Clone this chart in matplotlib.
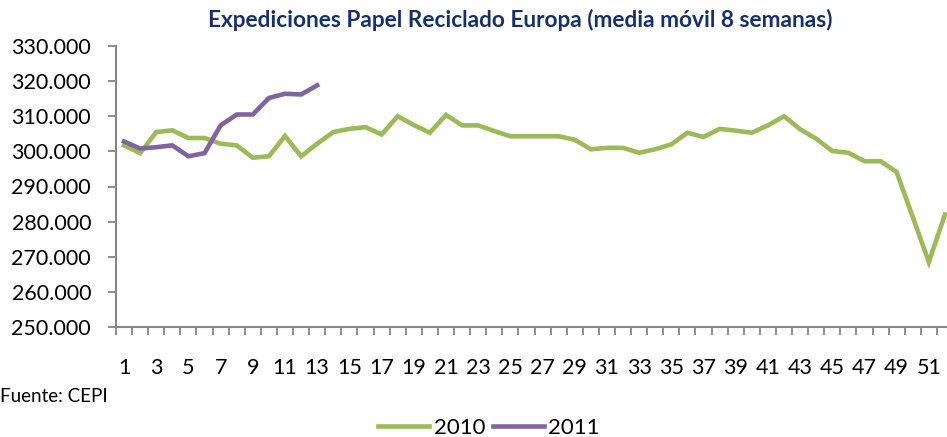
import matplotlib
matplotlib.use("Agg")
import matplotlib.pyplot as plt
from matplotlib.ticker import FuncFormatter, FixedLocator

weeks = list(range(1, 53))
s2010 = [301.7, 299.5, 305.5, 306.0, 303.8, 303.8, 302.2, 301.7, 298.2, 298.6,
         304.4, 298.6, 302.2, 305.5, 306.4, 306.9, 304.8, 310.0, 307.5, 305.3,
         310.4, 307.4, 307.4, 305.8, 304.3, 304.3, 304.3, 304.3, 303.3, 300.6,
         301.0, 301.0, 299.6, 300.6, 302.0, 305.3, 304.1, 306.4, 305.9, 305.3,
         307.4, 310.0, 306.3, 303.6, 300.1, 299.6, 297.2, 297.2, 294.1, 281.3,
         268.5, 282.0]
weeks2011 = list(range(1, 14))
s2011 = [302.8, 300.8, 301.2, 301.7, 298.6, 299.5, 307.4, 310.5, 310.5, 315.2,
         316.4, 316.2, 318.8]
yticks = [250, 260, 270, 280, 290, 300, 310, 320, 330]
title = "Expediciones Papel Reciclado Europa (media móvil 8 semanas)"
source = "Fuente: CEPI"

plt.rcParams['font.family'] = ['Lato', 'DejaVu Sans']

fig = plt.figure(figsize=(9.47, 4.37), dpi=100)
ax = fig.add_axes([116/947, 1-327/437, (953-116)/947, (327-46)/437])

green = '#9BBB59'
purple = '#8064A2'
ax.plot(weeks, s2010, color=green, lw=3.3, solid_joinstyle='miter', label='2010', clip_on=False)
ax.plot(weeks2011, s2011, color=purple, lw=3.3, solid_joinstyle='miter', label='2011', clip_on=False)

ax.set_xlim(0.5, 52.5)
ax.set_ylim(250, 330)
ax.set_yticks(yticks)
ax.yaxis.set_major_formatter(FuncFormatter(lambda v, p: f"{int(v)}.000"))

ax.xaxis.set_major_locator(FixedLocator([w for w in weeks if w % 2 == 1]))
ax.xaxis.set_minor_locator(FixedLocator([w + 0.5 for w in range(0, 53)]))
ax.tick_params(axis='x', which='major', length=0, pad=22, labelsize=15.5)
ax.tick_params(axis='x', which='minor', length=6, width=1.3, color='#868686', direction='out')
ax.tick_params(axis='y', which='major', length=6, width=1.3, color='#868686', direction='out',
               labelsize=15.5, pad=12)

for s in ['top', 'right']:
    ax.spines[s].set_visible(False)
for s in ['left', 'bottom']:
    ax.spines[s].set_color('#868686')
    ax.spines[s].set_linewidth(1.5)

fig.text(520/947, 1-20/437, title, ha='center', va='center', fontsize=16.3,
         fontweight='bold', color='#17306A')
fig.text(0/947, 1-397/437, source, ha='left', va='center', fontsize=13.5, color='#000000')

fig.legend(loc='center', bbox_to_anchor=(489/947, 1-428/437), ncol=2, frameon=False,
           fontsize=16, handlelength=2.3, handletextpad=0.2, columnspacing=0.35)

fig.savefig('out.png', dpi=100)
